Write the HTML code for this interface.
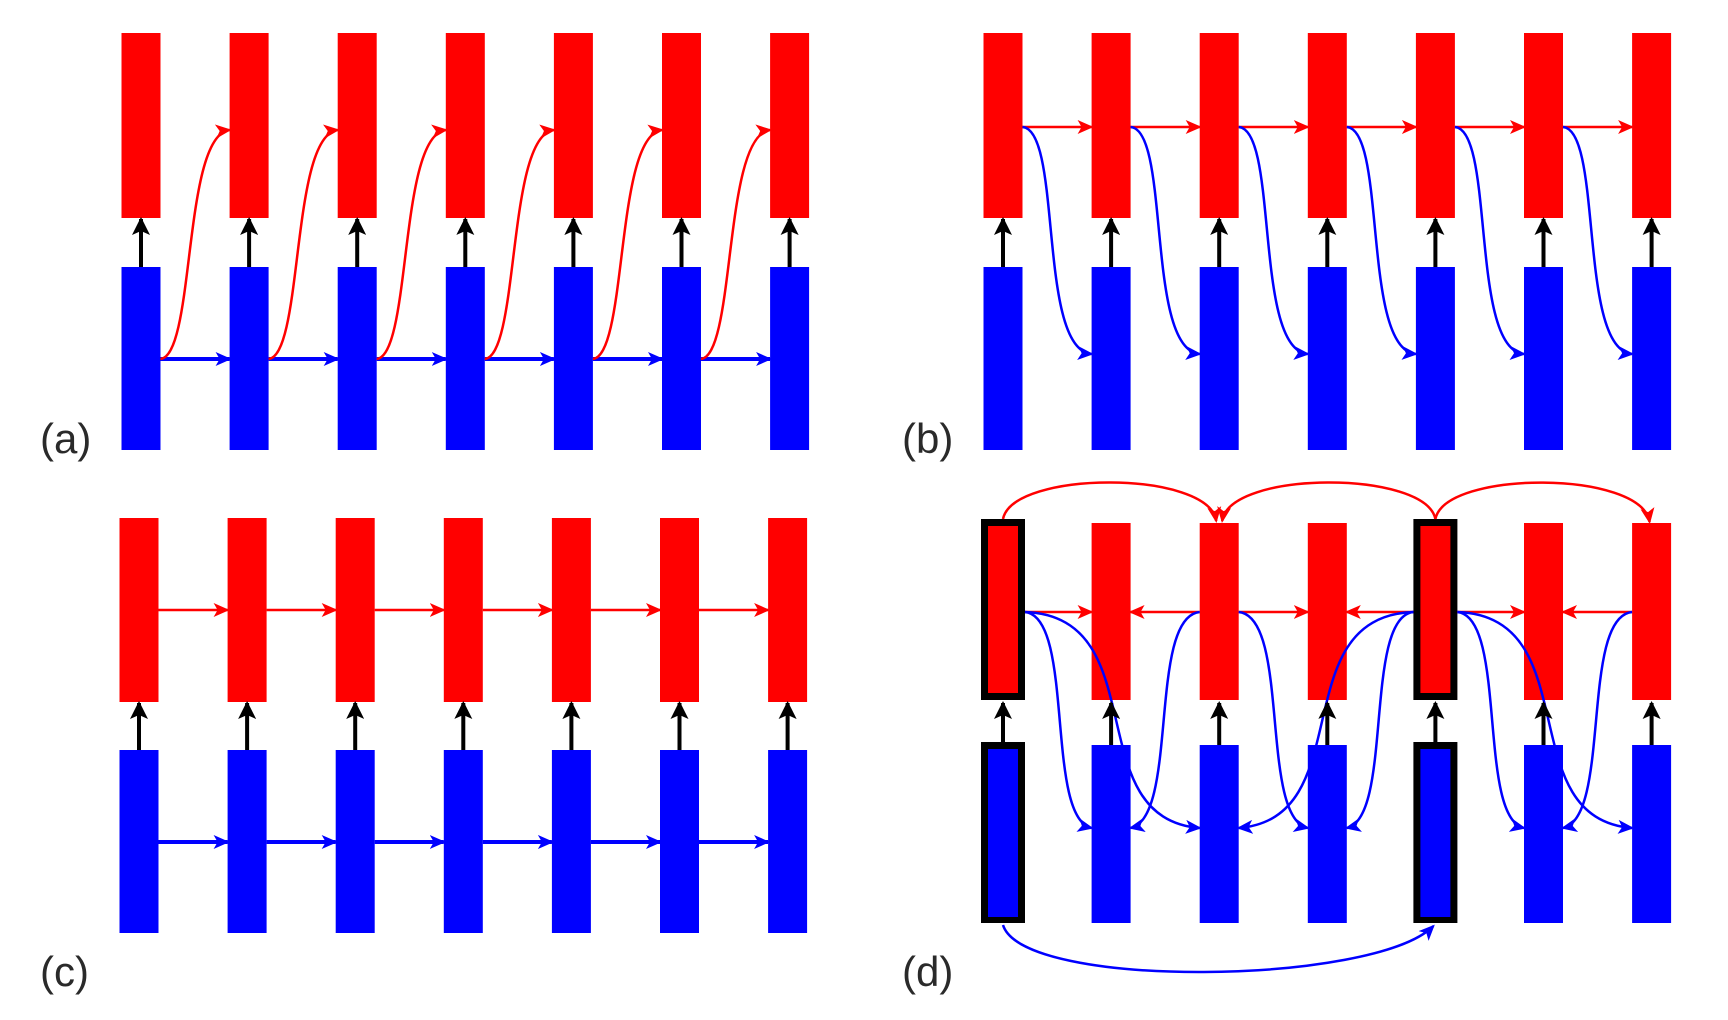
<!DOCTYPE html>
<html><head><meta charset="utf-8"><style>
html,body{margin:0;padding:0;background:#fff;}
svg{display:block;}
text{font-family:"Liberation Sans",sans-serif;font-size:42px;fill:#2a2a2a;}
</style></head><body>
<svg width="1728" height="1020" viewBox="0 0 1728 1020" xmlns="http://www.w3.org/2000/svg">
<defs>
<marker id="ar" markerUnits="userSpaceOnUse" markerWidth="16" markerHeight="16" refX="14" refY="8" orient="auto"><path d="M0,1 L16,8 L0,15 L4,8 Z" fill="#f00"/></marker>
<marker id="ab" markerUnits="userSpaceOnUse" markerWidth="16" markerHeight="16" refX="14" refY="8" orient="auto"><path d="M0,1 L16,8 L0,15 L4,8 Z" fill="#00f"/></marker>
<marker id="ak" markerUnits="userSpaceOnUse" markerWidth="20" markerHeight="18" refX="16" refY="9" orient="auto"><path d="M0,0 L18,9 L0,18 L4,9 Z" fill="#000"/></marker>
</defs>
<g id="all"></g>
<text x="40" y="453">(a)</text>
<text x="902" y="453">(b)</text>
<text x="40" y="986">(c)</text>
<text x="902" y="986">(d)</text>
</svg>
<script>
var g=document.getElementById('all');var NS='http://www.w3.org/2000/svg';
function el(t,a){var e=document.createElementNS(NS,t);for(var k in a)e.setAttribute(k,a[k]);g.appendChild(e);return e;}
function rect(x,y,w,h,f){el('rect',{x:x,y:y,width:w,height:h,fill:f});}
function path(d,c,m,w){el('path',{d:d,stroke:c,'stroke-width':w||2.5,fill:'none','marker-end':m?'url(#'+m+')':''});}
var W=39,h=W/2;
function panel(cx0,rt,rb,bt,bb,border){
  var cs=[];for(var i=0;i<7;i++)cs.push(cx0+108.1*i);
  for(var i=0;i<7;i++){var c=cs[i];
    if(border&&(i==0||i==4)){
      rect(c-22,rt-4,44,rb-rt+4,'#000');rect(c-15,rt+3,30,rb-rt-10,'#f00');
      rect(c-22,bt-3,44,bb-bt+3,'#000');rect(c-15,bt+4,30,bb-bt-10,'#00f');
    }else{rect(c-h,rt,W,rb-rt,'#f00');rect(c-h,bt,W,bb-bt,'#00f');}
  }
  return cs;
}
function vert(cs,rb,bt){cs.forEach(function(c){path('M'+c+','+bt+' L'+c+','+(rb+1),'#000','ak',4);});}
// (a)
var a=panel(141,33,218,267,450);
for(var i=0;i<6;i++){var x0=a[i]+h,x1=a[i+1]-h;
  path('M'+x0+',359 L'+x1+',359','#00f','ab',4);
  path('M'+x0+',359 C'+(x0+35)+',355 '+(x0+22)+',135 '+x1+',130','#f00','ar',2.5);}
vert(a,218,267);
// (b)
var b=panel(1003,33,218,267,450);
for(var i=0;i<6;i++){var x0=b[i]+h,x1=b[i+1]-h;
  path('M'+x0+',127 L'+x1+',127','#f00','ar',2.5);
  path('M'+x0+',127 C'+(x0+40)+',130 '+(x0+15)+',350 '+x1+',354','#00f','ab',2.5);}
vert(b,218,267);
// (c)
var c=panel(139,518,702,750,933);
for(var i=0;i<6;i++){var x0=c[i]+h,x1=c[i+1]-h;
  path('M'+x0+',610 L'+x1+',610','#f00','ar',2.5);
  path('M'+x0+',842 L'+x1+',842','#00f','ab',4);}
vert(c,702,750);
// (d)
var d=panel(1003,523,700,745,923,true);
var Y=612,YB=828;
function hr(i,j){var x0=i<j?d[i]+(i%4==0?22:h):d[i]-(i%4==0?22:h);var x1=i<j?d[j]-h:d[j]+h;path('M'+x0+','+Y+' L'+x1+','+Y,'#f00','ar',2.5);}
hr(0,1);hr(2,1);hr(2,3);hr(4,3);hr(4,5);hr(6,5);
function cv(i,j){var s=i<j?1:-1;var x0=d[i]+s*(i%4==0?22:h);var x1=d[j]-s*h;
  var dx=x1-x0;
  path('M'+x0+','+Y+' C'+(x0+dx*0.75)+','+(Y+5)+' '+(x0+dx*0.3)+','+(YB-10)+' '+x1+','+YB,'#00f','ab',2.5);}
cv(0,1);cv(0,2);cv(2,1);cv(2,3);cv(4,3);cv(4,2);cv(4,5);cv(4,6);cv(6,5);
// top arcs
path('M'+d[0]+',519 C'+(d[0]+10)+',470 '+(d[2]-10)+',470 '+(d[2]-3)+',521','#f00','ar',2.5);
path('M'+d[4]+',519 C'+(d[4]-10)+',470 '+(d[2]+10)+',470 '+(d[2]+3)+',521','#f00','ar',2.5);
path('M'+d[4]+',519 C'+(d[4]+10)+',470 '+(d[6]-10)+',470 '+(d[6]-2)+',522','#f00','ar',2.5);
// bottom arc
path('M'+d[0]+',925 C'+(d[0]+20)+',990 '+(d[4]-60)+',985 '+(d[4]-2)+',926','#00f','ab',2.5);
vert(d,702,745);
</script>
</body></html>
